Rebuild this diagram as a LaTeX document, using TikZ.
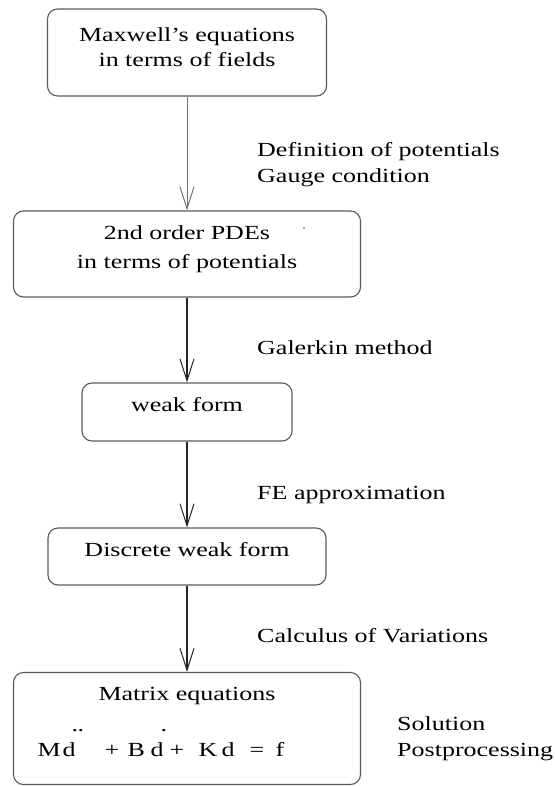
\documentclass[tikz,border=0pt]{standalone}
\usepackage{fontspec}
\setmainfont{Liberation Serif}[FakeStretch=1.3]
\usetikzlibrary{arrows.meta}
\newcommand\putat[2]{\rlap{\hspace{#1pt}#2}}
\begin{document}
\begin{tikzpicture}[x=1pt,y=-1pt,
  box/.style={draw=black!65,line width=1.1pt,rounded corners=10pt,inner sep=0pt},
  txt/.style={font=\fontsize{20}{27}\selectfont,inner sep=0pt,anchor=base},
  lbl/.style={font=\fontsize{20}{27}\selectfont,inner sep=0pt,anchor=base west},
  flow/.style={line width=1.15pt,draw=black!85,-{Straight Barb[length=22pt,width=14pt,line width=1pt]}}]
\useasboundingbox (0,0) rectangle (554,786);
% boxes
\node[box,minimum width=279pt,minimum height=87pt] (b1) at (187,52.5) {};
\node[box,minimum width=347pt,minimum height=86pt] (b2) at (187,254) {};
\node[box,minimum width=210pt,minimum height=58pt] (b3) at (187,412) {};
\node[box,minimum width=278pt,minimum height=57pt] (b4) at (187,556.5) {};
\node[box,minimum width=347pt,minimum height=112pt] (b5) at (187,728.5) {};
% box texts
\node[txt] (t1a) at (187,41.5) {Maxwell’s equations};
\node[txt] (t1b) at (187,67) {in terms of fields};
\node[txt] (t2a) at (187,240) {2nd order PDEs};
\node[txt] (t2b) at (187,268) {in terms of potentials};
\node[txt] (t3) at (187,411.5) {weak form};
\node[txt] (t4) at (187,556) {Discrete weak form};
\node[txt] (t5a) at (187,700) {Matrix equations};
\node[txt,anchor=base west] (t5b) at (37,756) {\putat{0}{M}\putat{25}{d}\putat{34}{\raisebox{25pt}{.}}\putat{40}{\raisebox{25pt}{.}}\putat{67}{+}\putat{90}{B}\putat{113}{d}\putat{123}{\raisebox{25pt}{.}}\putat{132}{+}\putat{161}{K}\putat{184}{d}\putat{212}{=}\putat{238}{f}\hspace{248pt}};
\fill[black!70] (304,228) circle (0.9pt);
% labels
\node[lbl] (l1a) at (257,157) {Definition of potentials};
\node[lbl] (l1b) at (257,183) {Gauge condition};
\node[lbl] (l2) at (257,354) {Galerkin method};
\node[lbl] (l3) at (257,499) {FE approximation};
\node[lbl] (l4) at (257,642.5) {Calculus of Variations};
\node[lbl] (l5a) at (397,730) {Solution};
\node[lbl] (l5b) at (397,756.5) {Postprocessing};
% connectors
\draw[flow,line width=0.8pt,draw=black!55] (b1) -- (b2);
\draw[flow] (b2) -- (b3);
\draw[flow] (b3) -- (b4);
\draw[flow] (b4) -- (b5);
\end{tikzpicture}
\end{document}
